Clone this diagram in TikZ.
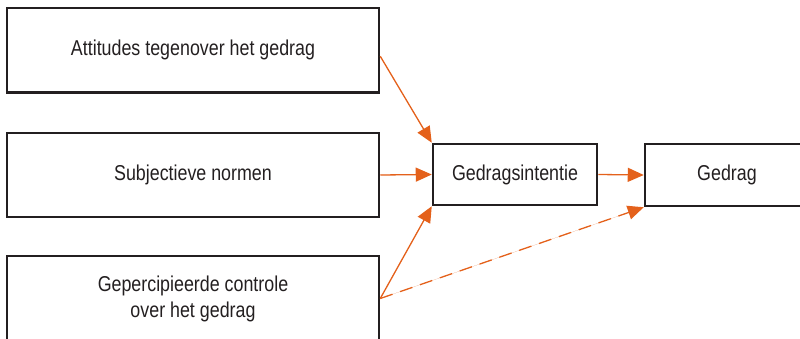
\documentclass[tikz,border=0pt]{standalone}
\usepackage{fontspec}
\setmainfont{Liberation Sans}[FakeStretch=0.83]
\usetikzlibrary{arrows.meta}
\definecolor{ink}{RGB}{35,31,32}
\definecolor{orng}{RGB}{228,97,27}
\begin{document}
\begin{tikzpicture}[x=1pt,y=-1pt,
  box/.style={draw=ink, line width=2.5pt, rectangle, text=ink, align=center,
    font=\fontsize{21.5}{26}\selectfont, inner sep=0pt},
  conn/.style={draw=orng, line width=1.3pt, -{Triangle[length=16pt,width=14pt]}, fill=orng},
  dashconn/.style={conn, dash pattern=on 13pt off 8pt}]
\useasboundingbox (0,0) rectangle (800,339);
\begin{scope}
\clip (0,0) rectangle (800,339);
\node[box, minimum width=372pt, minimum height=84.5pt] (att) at (193,50.25) {Attitudes tegenover het gedrag};
\node[box, minimum width=372pt, minimum height=84pt] (subj) at (193,175) {Subjectieve normen};
\node[box, minimum width=372pt, minimum height=85pt] (perc) at (193,298.5) {Gepercipieerde controle\\over het gedrag};
\node[box, minimum width=164pt, minimum height=61pt] (mid) at (515,174.5) {Gedragsintentie};
\node[box, minimum width=164pt, minimum height=62pt] (ged) at (727,175) {Gedrag};
\end{scope}
\draw[conn] ([yshift=-6pt]att.east) -- (mid.north west);
\draw[conn] (subj.east) -- (mid.west);
\draw[conn] (perc.east) -- (mid.south west);
\draw[dashconn] (perc.east) -- (ged.south west);
\draw[conn] (mid.east) -- (ged.west);
\end{tikzpicture}
\end{document}
